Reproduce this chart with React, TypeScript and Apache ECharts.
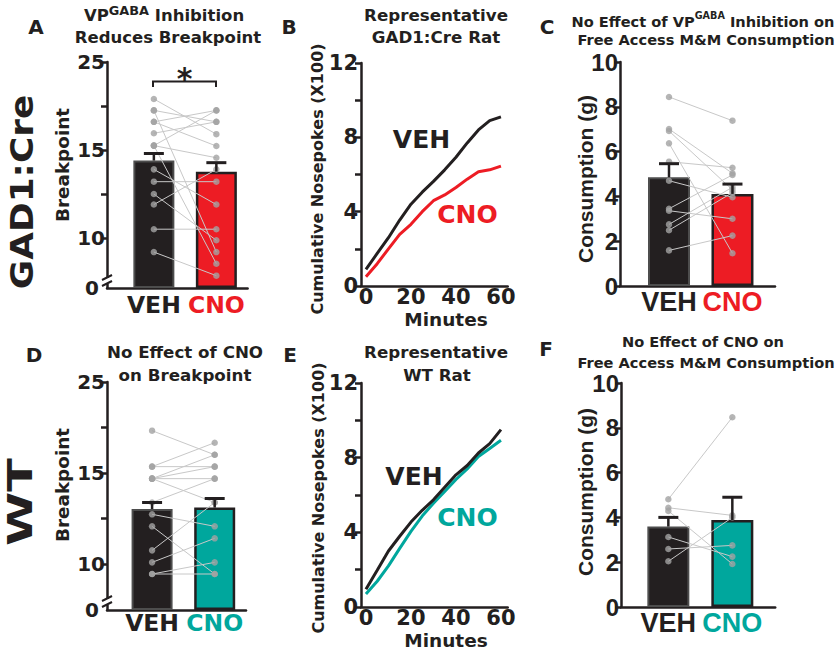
import React, { useEffect, useRef } from 'react';
import * as echarts from 'echarts';

// ---------------- data ----------------
const groups = ['VEH', 'CNO'];
const minutes = [0, 5, 10, 15, 20, 25, 30, 35, 40, 45, 50, 55, 60];
const bpTicks = [10, 12.5, 15, 20, 25];
const bpLabels = [0, 10, 15, 25];

// A: GAD1:Cre breakpoint (paired rats)
const aVeh = [20.8, 19.5, 19.5, 18.2, 18.2, 16.9, 15.5, 15.5, 15.5, 13.9, 13.2, 12.5, 11.9, 10.5, 9.2];
const aCno = [16.8, 18.2, 9.2, 19.5, 15.45, 18.2, 19.5, 14.56, 8.54, 11.9, 13.2, 9.87, 13.9, 10.5, 7.86];
const aMean = [14.4, 13.77];
const aSem = [0.4, 0.51];

// B: representative GAD1:Cre rat
const bVeh = [0.9, 1.75, 2.6, 3.55, 4.4, 5.05, 5.63, 6.25, 6.93, 7.7, 8.4, 8.9, 9.1];
const bCno = [0.5, 1.2, 2.0, 2.78, 3.32, 4.0, 4.59, 4.9, 5.3, 5.75, 6.15, 6.25, 6.45];

// C: GAD1:Cre consumption
const cVeh = [8.44, 7.01, 6.92, 6.37, 5.55, 4.7, 3.45, 3.36, 2.75, 2.49, 1.59];
const cCno = [7.38, 5.03, 4.29, 1.46, 5.28, 3.96, 4.96, 3.0, 4.41, 4.17, 2.25];
const cMean = [4.85, 4.11];
const cSem = [0.61, 0.44];

// D: WT breakpoint
const dVeh = [19.65, 15.7, 15.7, 14.69, 14.69, 14.69, 14.69, 13.38, 12.73, 12.07, 10.75, 10.09, 9.45, 9.45];
const dCno = [17.0, 18.33, 15.7, 17.0, 15.7, 14.69, 13.38, 14.69, 12.07, 9.45, 13.38, 11.41, 9.45, 10.09];
const dMean = [13.02, 13.1];
const dSem = [0.36, 0.5];

// E: representative WT rat
const eVeh = [0.95, 1.97, 3.0, 3.79, 4.55, 5.18, 5.74, 6.41, 7.08, 7.58, 8.25, 8.75, 9.5];
const eCno = [0.7, 1.38, 2.2, 3.14, 4.05, 4.87, 5.56, 6.19, 6.83, 7.4, 8.06, 8.49, 8.93];

// F: WT consumption
const fVeh = [4.81, 4.43, 4.29, 3.125, 2.59, 2.04];
const fCno = [8.47, 4.09, 1.92, 2.25, 2.75, 4.0];
const fMean = [3.59, 3.88];
const fSem = [0.41, 1.02];

// ---------------- style ----------------
const INK = '#231f20';
const RED = '#ed1c24';
const TEAL = '#00a79d';
const DOT = '#a2a2a2';
const PAIR = '#c8c8c8';
const DJ = '"DejaVu Sans", sans-serif';
const AR = '"Liberation Sans", Arial, sans-serif';

// breakpoint axis: 10..15 spans two tick units, 15..25 spans two tick units
const bpPos = (v: number, off: number) => off + (v >= 15 ? 2 + (v - 15) / 5 : (v - 10) / 2.5);

function buildOption() {
  const grid: any[] = [];
  const xAxis: any[] = [];
  const yAxis: any[] = [];
  const series: any[] = [];
  const axisLine = { show: true, onZero: false, lineStyle: { color: INK, width: 2.5 } };

  function barPanel(c: any) {
    const g = grid.length;
    grid.push({ left: c.left, top: c.top, width: c.width, height: c.height, containLabel: false, outerBoundsMode: 'none' });
    const catStyle = (col: string) => ({ color: col, fontFamily: c.catFont, fontWeight: 'bold', fontSize: c.catSize, lineHeight: c.catSize });
    xAxis.push({
      type: 'value', gridIndex: g, min: c.xMin, max: c.xMax,
      axisLine, axisTick: { show: false }, splitLine: { show: false },
      axisLabel: {
        customValues: [1, 2], margin: c.catMargin,
        formatter: (v: number) => (Math.round(v) === 1 ? `{veh|${groups[0]}}` : `{cno|${groups[1]}}`),
        rich: { veh: catStyle(INK), cno: catStyle(c.cnoColor) },
      },
    });
    const yLab: any = {
      margin: c.labelMargin, color: INK, fontFamily: c.labelFont, fontWeight: 'bold', fontSize: c.labelSize,
    };
    const y: any = {
      type: 'value', gridIndex: g, min: 0, max: c.yMax, axisLine, splitLine: { show: false },
      axisTick: { show: true, length: 6, lineStyle: { color: INK, width: 2.5 } },
      axisLabel: yLab,
    };
    if (c.off !== undefined) {
      const off = c.off;
      y.axisTick.customValues = bpTicks.map((t) => bpPos(t, off));
      yLab.customValues = bpLabels.map((l) => (l === 0 ? 0 : bpPos(l, off)));
      yLab.formatter = (v: number) => {
        if (Math.abs(v) < 1e-6) return '{z|0}';
        const hit = bpLabels.find((b) => b > 0 && Math.abs(bpPos(b, off) - v) < 1e-6);
        return hit !== undefined ? String(hit) : '';
      };
      yLab.rich = { z: { padding: [0, 6, 0, 0], color: INK, fontFamily: c.labelFont, fontWeight: 'bold', fontSize: c.labelSize } };
    } else {
      y.interval = 2;
    }
    yAxis.push(y);
    const map = c.map as (v: number) => number;
    series.push({
      type: 'bar', xAxisIndex: g, yAxisIndex: g, barWidth: c.barWidth, z: 2, silent: true,
      data: [
        { value: [1, map(c.mean[0])], itemStyle: { color: INK, borderColor: '#4d4d4d', borderWidth: 2 } },
        { value: [2, map(c.mean[1])], itemStyle: { color: c.cnoColor, borderColor: INK, borderWidth: 2.5 } },
      ],
    });
    series.push({
      type: 'custom', xAxisIndex: g, yAxisIndex: g, z: 3, silent: true,
      data: c.veh.map((v: number, i: number) => [map(v), map(c.cno[i])]),
      renderItem: (_p: any, api: any) => {
        const a = api.coord([1, api.value(0)]);
        const b = api.coord([2, api.value(1)]);
        return { type: 'line', shape: { x1: a[0], y1: a[1], x2: b[0], y2: b[1] }, style: { stroke: PAIR, lineWidth: 1 } };
      },
    });
    series.push({
      type: 'scatter', xAxisIndex: g, yAxisIndex: g, z: 4, silent: true, symbolSize: 6.5,
      itemStyle: { color: DOT },
      data: [...c.veh.map((v: number) => [1, map(v)]), ...c.cno.map((v: number) => [2, map(v)])],
    });
    series.push({
      type: 'custom', xAxisIndex: g, yAxisIndex: g, z: 5, silent: true,
      data: c.mean.map((m: number, i: number) => [i + 1, map(m), map(m + c.sem[i])]),
      renderItem: (_p: any, api: any) => {
        const b = api.coord([api.value(0), api.value(1)]);
        const t = api.coord([api.value(0), api.value(2)]);
        return {
          type: 'group',
          children: [
            { type: 'line', shape: { x1: b[0], y1: b[1], x2: t[0], y2: t[1] }, style: { stroke: INK, lineWidth: 2.5 } },
            { type: 'line', shape: { x1: t[0] - 10, y1: t[1], x2: t[0] + 10, y2: t[1] }, style: { stroke: INK, lineWidth: 3 } },
          ],
        };
      },
    });
  }

  function linePanel(c: any) {
    const g = grid.length;
    grid.push({ left: c.left, top: c.top, width: c.width, height: c.height, containLabel: false, outerBoundsMode: 'none' });
    const lab = { color: INK, fontFamily: DJ, fontWeight: 'bold', fontSize: 21 };
    xAxis.push({
      type: 'value', gridIndex: g, min: -2.2, max: 63, axisLine, axisTick: { show: false }, splitLine: { show: false },
      axisLabel: { ...lab, customValues: [0, 20, 40, 60], margin: 0, lineHeight: 21 },
    });
    yAxis.push({
      type: 'value', gridIndex: g, min: 0, max: 12, interval: 2, axisLine, splitLine: { show: false },
      axisTick: { show: true, length: 6, lineStyle: { color: INK, width: 2.5 } },
      axisLabel: { ...lab, margin: 3, formatter: (v: number) => (v % 4 === 0 ? String(v) : '') },
    });
    series.push({
      type: 'line', xAxisIndex: g, yAxisIndex: g, showSymbol: false, silent: true, z: 3,
      lineStyle: { color: c.cnoColor, width: 3 }, data: minutes.map((m, i) => [m, c.cno[i]]),
    });
    series.push({
      type: 'line', xAxisIndex: g, yAxisIndex: g, showSymbol: false, silent: true, z: 4,
      lineStyle: { color: INK, width: 3 }, data: minutes.map((m, i) => [m, c.veh[i]]),
    });
  }

  const aOff = 50 / 44;
  const dOff = 46 / 45.5;
  barPanel({
    left: 107, top: 62, width: 140.6, height: 226, xMin: 0.25, xMax: 2.5, yMax: aOff + 4, off: aOff,
    map: (v: number) => bpPos(v, aOff), labelFont: DJ, labelSize: 20, labelMargin: 2,
    catFont: DJ, catSize: 23.5, catMargin: 5, cnoColor: RED, barWidth: 41,
    veh: aVeh, cno: aCno, mean: aMean, sem: aSem,
  });
  linePanel({ left: 361, top: 63, width: 146.7, height: 223, veh: bVeh, cno: bCno, cnoColor: RED });
  barPanel({
    left: 620, top: 62, width: 155, height: 224, xMin: 0.228, xMax: 2.67, yMax: 10,
    map: (v: number) => v, labelFont: AR, labelSize: 24, labelMargin: 2,
    catFont: AR, catSize: 27, catMargin: 2, cnoColor: RED, barWidth: 42,
    veh: cVeh, cno: cCno, mean: cMean, sem: cSem,
  });
  barPanel({
    left: 107, top: 382, width: 139, height: 228, xMin: 0.28, xMax: 2.5, yMax: dOff + 4, off: dOff,
    map: (v: number) => bpPos(v, dOff), labelFont: DJ, labelSize: 20, labelMargin: 2,
    catFont: DJ, catSize: 23.5, catMargin: 1, cnoColor: TEAL, barWidth: 41,
    veh: dVeh, cno: dCno, mean: dMean, sem: dSem,
  });
  linePanel({ left: 361, top: 383, width: 146.7, height: 224, veh: eVeh, cno: eCno, cnoColor: TEAL });
  barPanel({
    left: 621, top: 383, width: 154.2, height: 224, xMin: 0.26, xMax: 2.67, yMax: 10,
    map: (v: number) => v, labelFont: AR, labelSize: 24, labelMargin: 2,
    catFont: AR, catSize: 27, catMargin: 2, cnoColor: TEAL, barWidth: 42,
    veh: fVeh, cno: fCno, mean: fMean, sem: fSem,
  });

  // ---------------- annotations ----------------
  const g: any[] = [];
  const txt = (x: number, y: number, text: string, size: number, opt: any = {}) => {
    g.push({
      type: 'text', x, y, z: 100, rotation: opt.rot || 0, scaleX: opt.sx || 1, silent: true,
      style: {
        text, fill: opt.color || INK,
        font: `bold ${size}px ${opt.family || DJ}`,
        align: 'center', verticalAlign: 'middle', textAlign: 'center', textVerticalAlign: 'middle',
        rich: opt.rich,
      },
    });
  };
  const supRich = (size: number, k: number) => ({
    n: { fontFamily: DJ, fontWeight: 'bold', fontSize: size, lineHeight: size + 6, fill: INK },
    s: { fontFamily: DJ, fontWeight: 'bold', fontSize: size * k, verticalAlign: 'top', fill: INK },
  });
  const ROT = Math.PI / 2;

  // panel letters
  txt(36, 27, 'A', 20); txt(289, 27, 'B', 20); txt(547, 27, 'C', 20);
  txt(34, 355, 'D', 20); txt(290, 355, 'E', 20); txt(546, 349, 'F', 20);
  // row labels
  txt(22, 192, 'GAD1:Cre', 32, { rot: ROT, sx: 1.12 });
  txt(20, 502, 'WT', 34, { rot: ROT, sx: 1.45 });
  // titles
  txt(164, 15, '{n|VP}{s|GABA}{n| Inhibition}', 16.5, { rich: supRich(16.5, 0.78) });
  txt(168, 37, 'Reduces Breakpoint', 16.5);
  txt(436, 15, 'Representative', 16.7);
  txt(436, 37, 'GAD1:Cre Rat', 16.7);
  txt(703, 21, '{n|No Effect of VP}{s|GABA}{n| Inhibition on}', 14.6, { rich: supRich(14.6, 0.66) });
  txt(706, 39, 'Free Access M&M Consumption', 14.6);
  txt(185, 352, 'No Effect of CNO', 16.7);
  txt(185, 375, 'on Breakpoint', 16.7);
  txt(436, 352, 'Representative', 16.7);
  txt(437, 375, 'WT Rat', 16.7);
  txt(703, 341, 'No Effect of CNO on', 14.6);
  txt(706, 362, 'Free Access M&M Consumption', 14.6);
  // axis names
  txt(62.5, 165, 'Breakpoint', 18.4, { rot: ROT });
  txt(62, 485, 'Breakpoint', 18.4, { rot: ROT });
  txt(317, 179, 'Cumulative Nosepokes (X100)', 16, { rot: ROT });
  txt(318, 498, 'Cumulative Nosepokes (X100)', 16, { rot: ROT });
  txt(585, 179, 'Consumption (g)', 21, { rot: ROT, family: AR });
  txt(585, 492, 'Consumption (g)', 21, { rot: ROT, family: AR });
  txt(446, 319, 'Minutes', 18.5);
  txt(446, 640, 'Minutes', 18.5);
  // in-plot line labels
  txt(421.5, 139, 'VEH', 25);
  txt(467.5, 214, 'CNO', 25, { color: RED });
  txt(414, 476, 'VEH', 25);
  txt(467.5, 517, 'CNO', 25, { color: TEAL });
  // significance bracket
  g.push({ type: 'polyline', z: 100, silent: true, shape: { points: [[153, 87], [153, 81.5], [216, 81.5], [216, 87]] }, style: { stroke: INK, lineWidth: 2, fill: null } });
  txt(184.5, 78, '*', 30);
  // axis breaks
  const brk = (yc: number) => {
    g.push({ type: 'rect', z: 100, silent: true, shape: { x: 103, y: yc - 3, width: 8, height: 6 }, style: { fill: '#fff' } });
    g.push({ type: 'line', z: 101, silent: true, shape: { x1: 102, y1: yc - 1, x2: 112, y2: yc - 6 }, style: { stroke: INK, lineWidth: 2 } });
    g.push({ type: 'line', z: 101, silent: true, shape: { x1: 102, y1: yc + 5, x2: 112, y2: yc }, style: { stroke: INK, lineWidth: 2 } });
  };
  brk(281);
  brk(602);

  return {
    animation: false,
    backgroundColor: '#ffffff',
    textStyle: { fontFamily: DJ },
    grid, xAxis, yAxis, series, graphic: g,
  };
}

export default function App() {
  const ref = useRef<HTMLDivElement>(null);
  useEffect(() => {
    const chart = echarts.init(ref.current!, null, { renderer: 'svg' });
    chart.setOption(buildOption() as any);
    return () => chart.dispose();
  }, []);
  return (
    <div
      ref={ref}
      style={{ position: 'absolute', left: 0, top: 0, width: 837, height: 650, background: '#fff' }}
    />
  );
}
